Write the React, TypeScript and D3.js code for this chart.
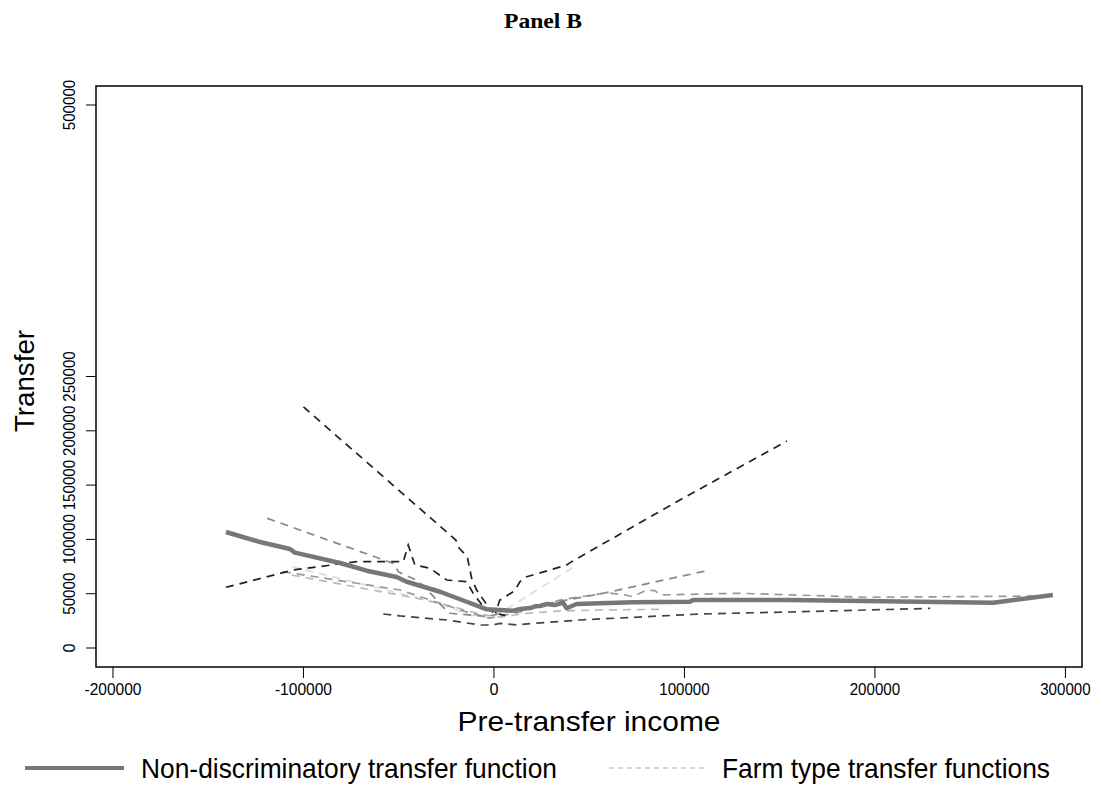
import React, { useEffect } from "react";
import * as d3 from "d3";

// values in thousands (income, transfer)
const mainX = [-140.7, -122.8, -107.1, -104.5, -80.8, -66.8, -51.1, -45.8, -28.3, -14.3, -3.8, 3.1, 10, 14, 18.9, 22, 24.1, 28, 32, 36.2, 38.2, 43.4, 55.6, 73, 102.9, 104.5, 155.4, 262, 293.4];
const mainY = [106.8, 97.6, 91.2, 87.8, 78.3, 71.2, 65.4, 61, 51.8, 42.6, 35.6, 35, 34.3, 36, 36.8, 38.5, 38.7, 40.5, 39.5, 41.9, 36.6, 40.5, 41.2, 42.1, 42.6, 44.2, 44.2, 41.7, 48.8];

const farmA_x = [-100, -20, -18.2, -14, -11.7, -9.1, -3, 1, 3, 11, 13.6, 16.3, 38.2, 40.8, 97.6, 153.8];
const farmA_y = [222, 99.4, 91.8, 84, 64.2, 53.4, 38, 32.9, 44, 52.8, 61, 65.1, 76.4, 79.5, 136.3, 190.6];

const farmB_x = [-140.7, -105.4, -72, -47.6, -45, -41.5, -33.6, -24.8, -14.3, -10.9, -5.6, 0.5, 6];
const farmB_y = [55.9, 71.8, 79.5, 79.5, 94.8, 76.4, 73.4, 62.6, 61, 50.4, 38, 32, 30];

const farmC_x = [-58.1, -49.3, -24.8, -7.3, -0.5, 3.1, 11.9, 20.5, 45.1, 108, 160.6, 229];
const farmC_y = [31.3, 29.5, 25.8, 21.2, 21.2, 22.7, 21.2, 22.7, 25.8, 31.3, 33.4, 36.5];

const farmD_x = [-119, -53, -50, -40, -32, -27, -23, -10, -3, 8, 24, 57.4, 113.4];
const farmD_y = [119.4, 78, 70, 62, 48, 38, 32, 30, 29, 34, 39.6, 50.4, 71.8];

const farmE_x = [-110.8, -49.3, -32, -12.6, -2, 13.6, 34.6, 59.2, 68.8, 73, 80.2, 84.5, 87.1, 129, 195.6, 293.4];
const farmE_y = [70.3, 53.4, 43.3, 32.2, 27.6, 33.1, 44.2, 50.9, 48.8, 47.2, 53.4, 52.8, 48.8, 50.4, 46.7, 47.9];

const farmF_x = [-106.2, -40.6, -24.8, -7.3, 3.1, 18.9, 34.6, 55.6, 87.1];
const farmF_y = [67.2, 45.8, 39.6, 31.3, 28.5, 32.2, 34.1, 35, 35.6];

const farmG_x = [-106.2, -31.9, -12.6, -2, 8.4, 40.8];
const farmG_y = [75, 42.6, 30.4, 27.6, 37.8, 73.4];

const xTicks = [-200000, -100000, 0, 100000, 200000, 300000];
const yTicks = [0, 50000, 100000, 150000, 200000, 250000, 500000];

const farmLines = [
  { xs: farmC_x, ys: farmC_y, color: "#444" },
  { xs: farmG_x, ys: farmG_y, color: "#ddd" },
  { xs: farmF_x, ys: farmF_y, color: "#bbb" },
  { xs: farmE_x, ys: farmE_y, color: "#999" },
  { xs: farmD_x, ys: farmD_y, color: "#888" },
  { xs: farmB_x, ys: farmB_y, color: "#222" },
  { xs: farmA_x, ys: farmA_y, color: "#222" },
];

const W = 1103, H = 797;
const box = { left: 96, right: 1082, top: 86, bottom: 667 };

export default function App() {
  useEffect(() => {
    document.body.style.margin = "0";
  }, []);

  const x = d3.scaleLinear().domain([-208900, 308700]).range([box.left, box.right]);
  const y = d3.scaleLinear().domain([0, 500000]).range([648, 105]);

  const line = d3.line<[number, number]>()
    .x((d) => x(d[0] * 1000))
    .y((d) => y(d[1] * 1000));

  const path = (xs: number[], ys: number[]) =>
    line(xs.map((v, i) => [v, ys[i]] as [number, number])) || "";

  const font = "'Liberation Sans', Arial, Helvetica, sans-serif";
  const tickLen = (t: number) => (t === 0 ? 9 : t < 0 ? 57 : String(t).length * 8.4);

  return (
    <svg width={W} height={H} style={{ display: "block", background: "#fff" }}>
      <text x={543} y={28} textAnchor="middle" fontFamily="'Liberation Serif', 'Times New Roman', serif"
        fontWeight="bold" fontSize={22} textLength={78} lengthAdjust="spacingAndGlyphs">Panel B</text>

      <g fill="none" strokeWidth={1.7} strokeDasharray="8 6">
        {farmLines.map((f, i) => (
          <path key={i} d={path(f.xs, f.ys)} stroke={f.color} />
        ))}
      </g>
      <path d={path(mainX, mainY)} fill="none" stroke="#777" strokeWidth={4.5} strokeLinejoin="round" />

      <rect x={box.left} y={box.top} width={box.right - box.left} height={box.bottom - box.top}
        fill="none" stroke="#000" strokeWidth={1.5} />

      {xTicks.map((t) => (
        <g key={t}>
          <line x1={x(t)} x2={x(t)} y1={box.bottom} y2={box.bottom + 11} stroke="#000" strokeWidth={1} />
          <text x={x(t)} y={695} textAnchor="middle" fontFamily={font} fontSize={16}
            textLength={tickLen(t)} lengthAdjust="spacingAndGlyphs">{t}</text>
        </g>
      ))}
      {yTicks.map((t) => (
        <g key={t}>
          <line x1={box.left - 10} x2={box.left} y1={y(t)} y2={y(t)} stroke="#000" strokeWidth={1} />
          <text transform={`translate(75,${y(t)}) rotate(-90)`} textAnchor="middle" fontFamily={font} fontSize={16}
            textLength={tickLen(t)} lengthAdjust="spacingAndGlyphs">{t}</text>
        </g>
      ))}

      <text x={589} y={731} textAnchor="middle" fontFamily={font} fontSize={28} textLength={263} lengthAdjust="spacingAndGlyphs">Pre-transfer income</text>
      <text transform="translate(34,381) rotate(-90)" textAnchor="middle" fontFamily={font} fontSize={28} textLength={102} lengthAdjust="spacingAndGlyphs">Transfer</text>

      <line x1={25} x2={124} y1={768} y2={768} stroke="#777" strokeWidth={4} />
      <text x={141} y={778} fontFamily={font} fontSize={28} textLength={416} lengthAdjust="spacingAndGlyphs">Non-discriminatory transfer function</text>
      <line x1={609} x2={707} y1={768} y2={768} stroke="#aaa" strokeWidth={1.2} strokeDasharray="5 4" />
      <text x={722} y={778} fontFamily={font} fontSize={28} textLength={328} lengthAdjust="spacingAndGlyphs">Farm type transfer functions</text>
    </svg>
  );
}
